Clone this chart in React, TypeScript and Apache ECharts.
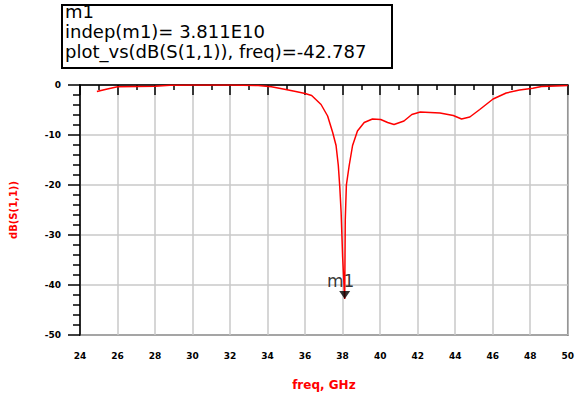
import React, { useEffect, useRef } from "react";
import * as echarts from "echarts";

const freqGHz = [
  24.9, 25.4, 26.0, 27.0, 28.0, 28.8, 30.0, 32.0, 33.5, 34.2, 34.9, 35.5, 36.0,
  36.35, 36.85, 37.2, 37.47, 37.65, 37.77, 37.85, 37.92, 38.0, 38.11, 38.14,
  38.2, 38.35, 38.53, 38.79, 39.15, 39.59, 40.03, 40.4, 40.74, 41.27, 41.69,
  42.14, 43.19, 43.9, 44.34, 44.78, 45.31, 46.02, 46.72, 47.43, 48.14, 48.6,
  49.72, 50.0,
];
const dbS11 = [
  -1.3, -0.85, -0.35, -0.3, -0.25, -0.05, 0, 0, -0.1, -0.35, -0.85, -1.3, -1.7,
  -2.1, -3.9, -6.2, -9.5, -12.1, -16.1, -20.5, -25.5, -34.4, -42.787, -27,
  -20, -16.1, -12.1, -9.2, -7.5, -6.8, -6.9, -7.5, -7.9, -7.2, -5.9,
  -5.4, -5.6, -6.1, -6.8, -6.4, -4.9, -2.8, -1.6, -1.0, -0.65, -0.3,
  -0.13, -0.1,
];
const markerFreq = 38.11;
const markerValue = -42.787;
const markerName = "m1";
const markerLines = [
  "m1",
  "indep(m1)= 3.811E10",
  "plot_vs(dB(S(1,1)), freq)=-42.787",
];
const xTitle = "freq, GHz";
const yTitle = "dB(S(1,1))";

export default function App() {
  const ref = useRef<HTMLDivElement>(null);
  useEffect(() => {
    if (!ref.current) return;
    const chart = echarts.init(ref.current, null, { renderer: "svg" });
    const lineData = freqGHz.map((f, i) => [f, dbS11[i]]);
    const tickLabel = {
      color: "#000",
      fontFamily: "DejaVu Sans",
      fontWeight: "bold" as const,
      fontSize: 9,
    };
    chart.setOption({
      animation: false,
      backgroundColor: "#fff",
      grid: {
        left: 80,
        top: 85,
        width: 491,
        height: 254,
        show: true,
        borderColor: "#000",
        borderWidth: 1.5,
        backgroundColor: "transparent",
      },
      xAxis: {
        type: "value",
        min: 24,
        max: 50,
        interval: 2,
        name: xTitle,
        nameLocation: "middle",
        nameGap: 44,
        nameTextStyle: {
          color: "#ff0000",
          fontFamily: "DejaVu Sans",
          fontWeight: "bold",
          fontSize: 12,
        },
        axisLine: { show: true, lineStyle: { color: "#000", width: 1.5 } },
        axisTick: { show: true, inside: false, length: 10, lineStyle: { color: "#000", width: 1.5 } },
        minorTick: { show: true, splitNumber: 2, length: 5, lineStyle: { color: "#000", width: 1.5 } },
        axisLabel: { ...tickLabel, margin: 16 },
        splitLine: { show: true, lineStyle: { color: "#c8c8c8", width: 1.5 } },
      },
      yAxis: {
        type: "value",
        min: -50,
        max: 0,
        interval: 10,
        name: yTitle,
        nameLocation: "middle",
        nameGap: 62,
        nameRotate: 90,
        nameTextStyle: {
          color: "#ff0000",
          fontFamily: "DejaVu Sans",
          fontWeight: "bold",
          fontSize: 10,
        },
        axisLine: { show: true, lineStyle: { color: "#000", width: 1.5 } },
        axisTick: { show: true, inside: false, length: 12, lineStyle: { color: "#000", width: 1.5 } },
        minorTick: { show: true, splitNumber: 5, length: 7, lineStyle: { color: "#000", width: 1.5 } },
        axisLabel: { ...tickLabel, margin: 19 },
        splitLine: { show: true, lineStyle: { color: "#c8c8c8", width: 1.5 } },
      },
      series: [
        {
          type: "line",
          data: lineData,
          showSymbol: false,
          symbol: "none",
          lineStyle: { color: "#ff0000", width: 1.5 },
          z: 3,
        },
        {
          type: "scatter",
          data: [[markerFreq, markerValue]],
          symbol: "triangle",
          symbolRotate: 180,
          symbolSize: [11, 8],
          symbolOffset: [0, -4],
          itemStyle: { color: "#000" },
          label: {
            show: true,
            formatter: markerName,
            position: "top",
            distance: 1,
            offset: [-4, 0],
            color: "#000",
            fontFamily: "DejaVu Sans",
            fontSize: 17,
          },
          z: 5,
        },
      ],
      graphic: [
        {
          type: "rect",
          shape: { x: 62, y: 5, width: 330, height: 63 },
          style: { fill: "#fff", stroke: "#000", lineWidth: 2 },
        },
        {
          type: "text",
          x: 65,
          y: 1,
          style: {
            text: markerLines.join("\n"),
            fill: "#000",
            font: "18px 'DejaVu Sans'",
            lineHeight: 20,
            textVerticalAlign: "top",
          },
        },
      ],
    });
    return () => chart.dispose();
  }, []);
  return (
    <div
      ref={ref}
      style={{ position: "absolute", left: 0, top: 0, width: 577, height: 396 }}
    />
  );
}
